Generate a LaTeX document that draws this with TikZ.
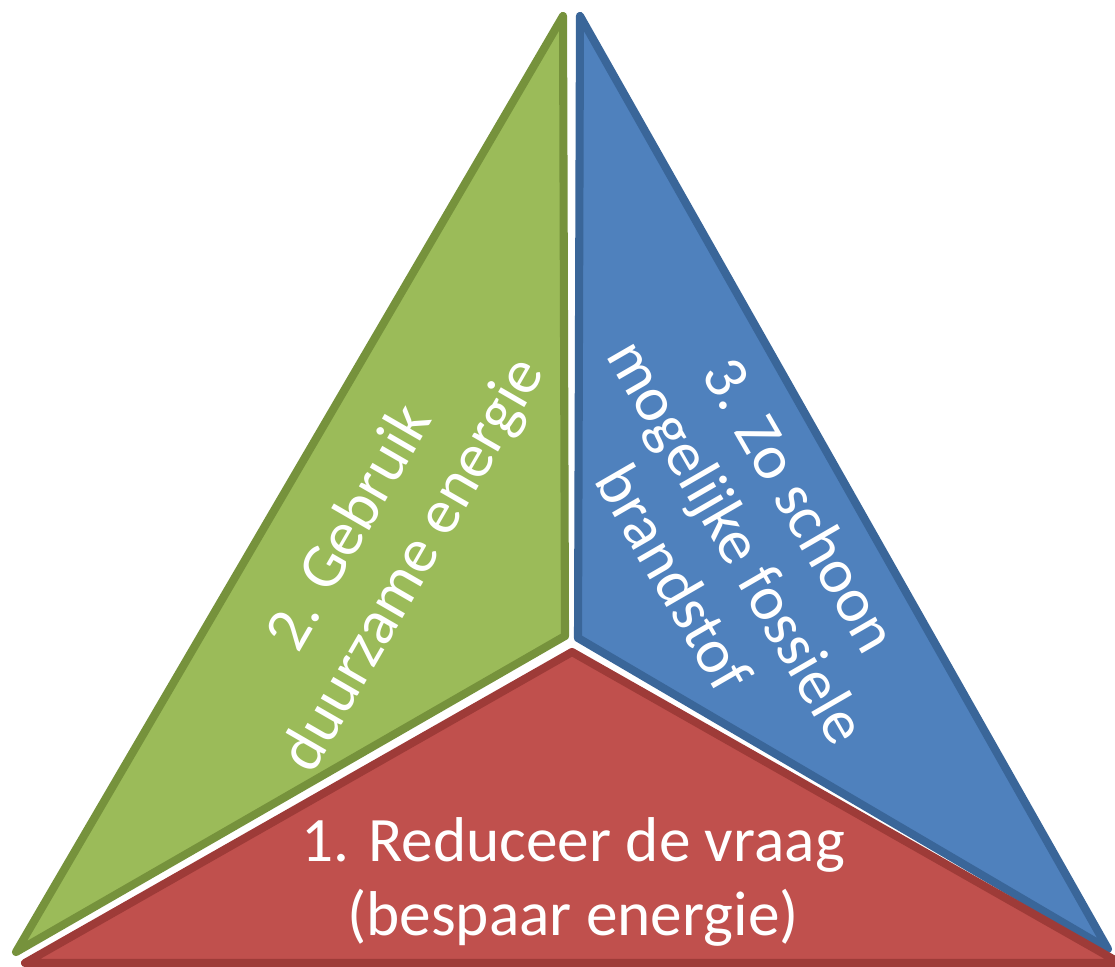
\documentclass[tikz,border=0pt]{standalone}
\usepackage{fontspec}
\setmainfont{Carlito}
\usepackage{tikz}

\definecolor{groen}{HTML}{9BBB59}
\definecolor{groenrand}{HTML}{76923C}
\definecolor{blauw}{HTML}{4F81BD}
\definecolor{blauwrand}{HTML}{3A6699}
\definecolor{rood}{HTML}{C0504D}
\definecolor{roodrand}{HTML}{9E3B38}

\begin{document}
\begin{tikzpicture}[x=0.01cm,y=-0.01cm,
        vlak/.style={line width=2.3pt,line join=round},
        tekst/.style={text=white,align=center,font=\fontsize{18}{20.8}\selectfont}]
        \useasboundingbox (0,0) rectangle (1115,967);
        % de drie vlakken
        \coordinate (GroenTop) at (563,16);
        \coordinate (GroenLinks) at (16,952);
        \coordinate (GroenMidden) at (565,636);
        \coordinate (BlauwTop) at (580,16);
        \coordinate (BlauwMidden) at (578,638);
        \coordinate (BlauwRechts) at (1108,949);
        \coordinate (RoodTop) at (572,652);
        \coordinate (RoodLinks) at (25,963);
        \coordinate (RoodRechts) at (1120,963);
        \draw [vlak,fill=groen,draw=groenrand] (GroenTop) -- (GroenLinks) -- (GroenMidden) -- cycle;
        \draw [vlak,fill=blauw,draw=blauwrand] (BlauwTop) -- (BlauwMidden) -- (BlauwRechts) -- cycle;
        \draw [vlak,fill=rood,draw=roodrand] (RoodTop) -- (RoodLinks) -- (RoodRechts) -- cycle;
        % teksten
        \node [tekst,rotate=60] (Duurzaam) at (383,547) {2. Gebruik\\duurzame energie};
        \node [tekst,rotate=-60] (Fossiel) at (738,541) {3. Zo schoon\\mogelijke fossiele\\brandstof};
        \node [tekst] (Reduceer) at (573,882) {1. Reduceer de vraag\\(bespaar energie)};
    \end{tikzpicture}
\end{document}
